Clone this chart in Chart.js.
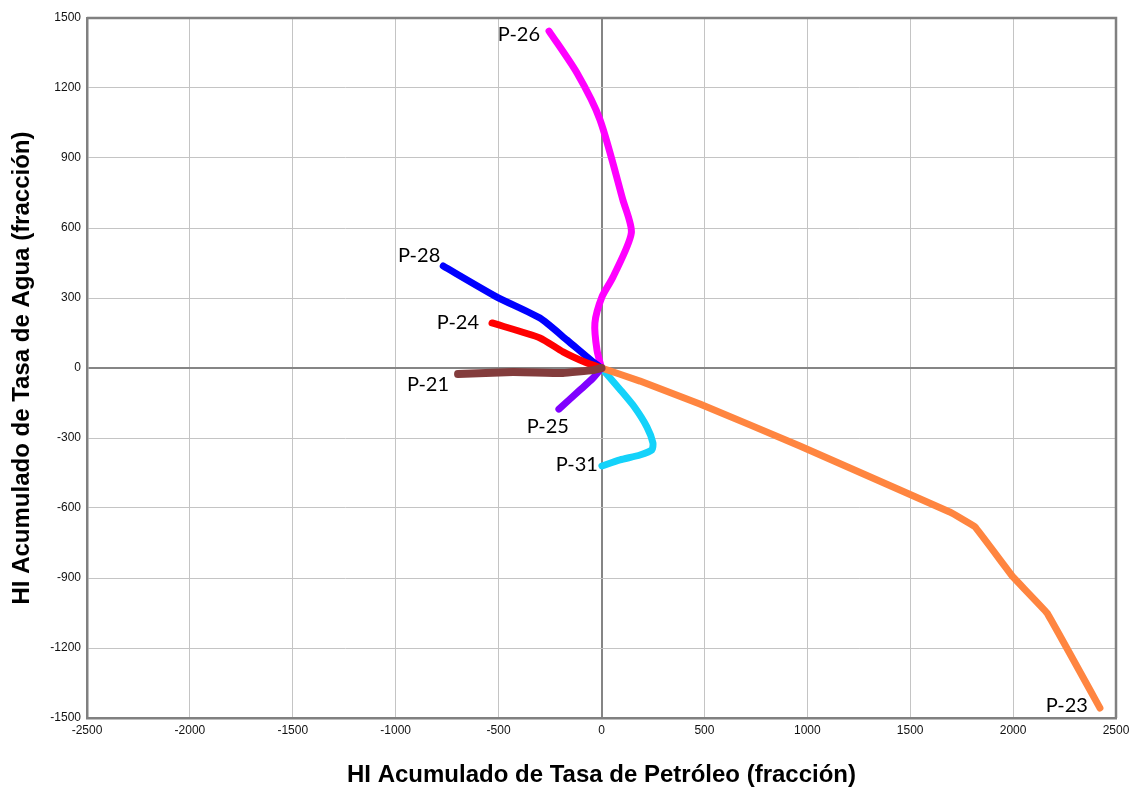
<!DOCTYPE html>
<html lang="es">
<head>
<meta charset="utf-8">
<title>HI Acumulado</title>
<script src="https://cdn.jsdelivr.net/npm/chart.js@4.4.1/dist/chart.umd.min.js"></script>
<style>
  html, body { margin: 0; padding: 0; background: #ffffff; }
  #wrap { width: 1137px; height: 793px; }
</style>
</head>
<body>
<div id="wrap"><canvas id="chart" width="1137" height="793"></canvas></div>
<script>
// Cumulative Hall-index values per well (oil-rate HI on x, water-rate HI on y)
const wells = ['P-26', 'P-28', 'P-24', 'P-21', 'P-25', 'P-31', 'P-23'];

const p26X = [0, -22, -32, 2, 56, 145, 104, -7, -119, -255];
const p26Y = [0, 77, 193, 304, 390, 579, 720, 1063, 1264, 1444];

const p28X = [0, -41, -168, -299, -508, -769];
const p28Y = [0, 26, 120, 214, 304, 437];

const p24X = [0, -70, -187, -299, -532];
const p24Y = [0, 21, 69, 129, 193];

const p21X = [0, -41, -187, -430, -697];
const p21Y = [0, -9, -21, -17, -26];

const p25X = [0, -41, -104, -207];
const p25Y = [0, -43, -94, -176];

const p31X = [0, 92, 160, 221, 250, 245, 187, 90, 2];
const p31Y = [0, -94, -167, -253, -321, -351, -373, -394, -420];

const p23X = [0, 187, 478, 964, 1450, 1692, 1815, 2000, 2165, 2422];
const p23Y = [0, -56, -154, -334, -523, -617, -681, -896, -1050, -1457];

// Axis ranges and tick spacing
const xRange = [-2500, 2500];
const yRange = [-1500, 1500];
const xStep = 500;
const yStep = 300;

const toPoints = (xs, ys) => xs.map((x, i) => ({ x: x, y: ys[i] }));

// Per-series style and where its name is written (offset from the last point)
const seriesStyle = {
  'P-26': { color: '#ff00ff', width: 7, tension: 0.25, order: 7, dx: -9,  dy: 3,   align: 'right' },
  'P-28': { color: '#0000ff', width: 7, tension: 0.2,  order: 6, dx: -3,  dy: -10, align: 'right' },
  'P-24': { color: '#ff0000', width: 7, tension: 0.2,  order: 5, dx: -13, dy: 0,   align: 'right' },
  'P-21': { color: '#833c3c', width: 8, tension: 0.1,  order: 1, dx: -9,  dy: 10,  align: 'right' },
  'P-25': { color: '#8000ff', width: 7, tension: 0.2,  order: 2, dx: 10,  dy: 17,  align: 'right' },
  'P-31': { color: '#14d2fa', width: 7, tension: 0.2,  order: 4, dx: -4,  dy: -1,  align: 'right' },
  'P-23': { color: '#ff8540', width: 7, tension: 0.05, order: 3, dx: -12, dy: -2,  align: 'right' }
};

const seriesData = {
  'P-26': toPoints(p26X, p26Y),
  'P-28': toPoints(p28X, p28Y),
  'P-24': toPoints(p24X, p24Y),
  'P-21': toPoints(p21X, p21Y),
  'P-25': toPoints(p25X, p25Y),
  'P-31': toPoints(p31X, p31Y),
  'P-23': toPoints(p23X, p23Y)
};

const datasets = wells.map(name => ({
  label: name,
  data: seriesData[name],
  showLine: true,
  borderColor: seriesStyle[name].color,
  backgroundColor: seriesStyle[name].color,
  borderWidth: seriesStyle[name].width,
  borderCapStyle: 'round',
  borderJoinStyle: 'round',
  pointRadius: 0,
  pointHoverRadius: 0,
  tension: seriesStyle[name].tension,
  order: seriesStyle[name].order,
  fill: false
}));

// Outer frame on top and right of the plot area
const framePlugin = {
  id: 'frame',
  beforeDatasetsDraw(chart) {
    const { ctx, chartArea: a } = chart;
    ctx.save();
    ctx.strokeStyle = '#808080';
    ctx.lineWidth = 2.5;
    ctx.beginPath();
    ctx.moveTo(a.left, a.top);
    ctx.lineTo(a.right, a.top);
    ctx.lineTo(a.right, a.bottom);
    ctx.stroke();
    ctx.restore();
  }
};

// Well names written next to the far end of each curve
const wellLabelPlugin = {
  id: 'wellLabels',
  afterDatasetsDraw(chart) {
    const { ctx, scales } = chart;
    ctx.save();
    ctx.font = '20px Lato, "Open Sans", sans-serif';
    ctx.fillStyle = '#000000';
    ctx.textBaseline = 'middle';
    chart.data.datasets.forEach(ds => {
      const st = seriesStyle[ds.label];
      const end = ds.data[ds.data.length - 1];
      const px = scales.x.getPixelForValue(end.x) + st.dx;
      const py = scales.y.getPixelForValue(end.y) + st.dy;
      ctx.textAlign = st.align;
      ctx.fillText(ds.label, px, py);
    });
    ctx.restore();
  }
};

const gridColor = c => (c.tick && c.tick.value === 0) ? '#858585' : '#c4c4c4';
const gridWidth = c => (c.tick && c.tick.value === 0) ? 2 : 1;

const tickFont = { family: '"Liberation Sans", Arial, sans-serif', size: 12 };
const titleFont = { family: '"Liberation Sans", Arial, sans-serif', size: 24, weight: 'bold' };

new Chart(document.getElementById('chart'), {
  type: 'scatter',
  data: { datasets: datasets },
  options: {
    responsive: false,
    animation: false,
    layout: { padding: { top: 18, right: 21, left: 0, bottom: 0 } },
    plugins: {
      legend: { display: false },
      tooltip: { enabled: false }
    },
    scales: {
      x: {
        type: 'linear',
        min: xRange[0],
        max: xRange[1],
        ticks: {
          stepSize: xStep,
          color: '#111111',
          font: tickFont,
          padding: 5,
          maxRotation: 0,
          autoSkip: false,
          callback: v => String(v)
        },
        grid: { color: gridColor, lineWidth: gridWidth, drawTicks: false },
        border: { display: true, color: '#808080', width: 2.5 },
        title: {
          display: true,
          text: 'HI Acumulado de Tasa de Petróleo (fracción)',
          color: '#000000',
          font: titleFont,
          padding: { top: 0, bottom: 3 }
        },
        afterFit: scale => { scale.height = 75; }
      },
      y: {
        type: 'linear',
        min: yRange[0],
        max: yRange[1],
        ticks: {
          stepSize: yStep,
          color: '#111111',
          font: tickFont,
          padding: 6,
          autoSkip: false,
          callback: v => String(v)
        },
        grid: { color: gridColor, lineWidth: gridWidth, drawTicks: false },
        border: { display: true, color: '#808080', width: 2.5 },
        title: {
          display: true,
          text: 'HI Acumulado de Tasa de Agua (fracción)',
          color: '#000000',
          font: titleFont,
          padding: { top: 8, bottom: 0 }
        },
        afterFit: scale => { scale.width = 87; }
      }
    }
  },
  plugins: [framePlugin, wellLabelPlugin]
});
</script>
</body>
</html>
